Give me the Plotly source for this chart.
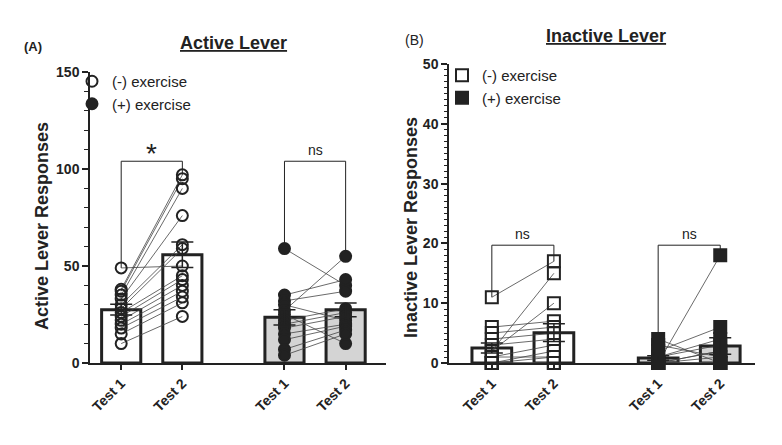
import numpy as np
import plotly.graph_objects as go

# ---------------- data ----------------
categories = ["Test 1", "Test 2"]
group_names = ["(-) exercise", "(+) exercise"]

# Active lever responses (paired: index i = same animal)
active_neg_t1 = [49, 38, 37, 35, 33, 30, 28, 26, 24, 22, 20, 18, 15, 10]
active_neg_t2 = [50, 97, 95, 90, 76, 61, 59, 45, 43, 40, 37, 34, 31, 24]
active_pos_t1 = [59, 35, 32, 30, 27, 25, 22, 20, 18, 15, 12, 7, 4]
active_pos_t2 = [40, 43, 37, 22, 55, 10, 28, 26, 24, 20, 19, 17, 15]

# Inactive lever responses
inactive_neg_t1 = [11, 2, 2, 6, 5, 4, 3, 1, 0, 1, 0, 0, 0, 0]
inactive_neg_t2 = [17, 15, 10, 7, 6, 5, 4, 3, 2, 1, 1, 0, 0, 0]
inactive_pos_t1 = [0, 4, 3, 2, 1, 1, 0, 0, 0, 0, 0, 0, 0]
inactive_pos_t2 = [18, 0, 1, 6, 4, 3, 2, 2, 1, 0, 0, 0, 0]

sig_active = ["*", "ns"]
sig_inactive = ["ns", "ns"]

# ---------------- style ----------------
FONT = "Liberation Sans, Arial, sans-serif"
INK = "#222222"
BAR_FILLS = ["#ffffff", "#d4d4d4"]
W, H = 782, 445
OFF = 8  # page body margin


def px_x(p):
    return (p - OFF) / W


def px_y(p):
    return 1 - (p - OFF) / H


fig = go.Figure()


def mean_sem(a):
    a = np.asarray(a, dtype=float)
    return a.mean(), a.std(ddof=1) / np.sqrt(len(a))


def panel(xa, ya, legend, positions, data, symbols, msize, bracket_top, sig, sig_font):
    means, sems, xs = [], [], []
    for gi, (t1, t2) in enumerate(data):
        p1, p2 = positions[gi]
        m1, s1 = mean_sem(t1)
        m2, s2 = mean_sem(t2)
        fig.add_trace(go.Bar(
            x=[p1, p2], y=[m1, m2], width=0.64, xaxis=xa, yaxis=ya,
            marker=dict(color=BAR_FILLS[gi], line=dict(color=INK, width=3)),
            showlegend=False, hoverinfo="skip"))
        means += [m1, m2]
        sems += [s1, s2]
        xs += [p1, p2]
    for gi, (t1, t2) in enumerate(data):
        p1, p2 = positions[gi]
        fig.add_trace(go.Scatter(
            x=[p1, p1, p2, p2], y=[max(t1), bracket_top, bracket_top, max(t2)],
            mode="lines", line=dict(color=INK, width=1), xaxis=xa, yaxis=ya,
            showlegend=False, hoverinfo="skip", cliponaxis=False))
        fig.add_annotation(x=(p1 + p2) / 2, y=bracket_top, xref=xa, yref=ya,
                           text=sig[gi], showarrow=False, xanchor="center",
                           yanchor="bottom", yshift=sig_font[gi][1],
                           font=dict(family=FONT, size=sig_font[gi][0], color=INK))
        lx, ly = [], []
        for a, b in zip(t1, t2):
            lx += [p1, p2, None]
            ly += [a, b, None]
        fig.add_trace(go.Scatter(
            x=lx, y=ly, mode="lines", line=dict(color="#444444", width=0.8),
            xaxis=xa, yaxis=ya, showlegend=False, hoverinfo="skip", cliponaxis=False))
        fig.add_trace(go.Scatter(
            x=[p1] * len(t1) + [p2] * len(t2), y=list(t1) + list(t2),
            mode="markers", name=group_names[gi], legend=legend,
            marker=dict(symbol=symbols[gi], size=msize, color=INK,
                        line=dict(color=INK, width=2)),
            xaxis=xa, yaxis=ya, showlegend=True, cliponaxis=False))
    fig.add_trace(go.Scatter(
        x=xs, y=means, mode="markers", marker=dict(size=1, opacity=0),
        error_y=dict(type="data", array=sems, color=INK, thickness=1.5, width=11),
        xaxis=xa, yaxis=ya, showlegend=False, hoverinfo="skip", cliponaxis=False))


pos_A = [(0, 1), (2.67, 3.67)]
pos_B = [(0, 1), (2.68, 3.68)]

panel("x", "y", "legend", pos_A,
      [(active_neg_t1, active_neg_t2), (active_pos_t1, active_pos_t2)],
      ["circle-open", "circle"], 11, 104, sig_active, [(28, -10), (14, 1)])
panel("x2", "y2", "legend2", pos_B,
      [(inactive_neg_t1, inactive_neg_t2), (inactive_pos_t1, inactive_pos_t2)],
      ["square-open", "square"], 12, 19.7, sig_inactive, [(14, 1), (14, 1)])

tickvals_A = [p for g in pos_A for p in g]
tickvals_B = [p for g in pos_B for p in g]

xcommon = dict(showline=True, linecolor=INK, linewidth=1.5, ticks="outside",
               ticklen=5, tickwidth=1.5, tickcolor=INK, tickangle=-45,
               showgrid=False, zeroline=False, automargin=False,
               tickfont=dict(family=FONT, size=14, color=INK, weight="bold"))
ycommon = dict(showline=True, linecolor=INK, linewidth=1.5, ticks="outside",
               ticklen=6, tickwidth=1.5, tickcolor=INK, showgrid=False,
               zeroline=False, automargin=False, tickmode="linear", tick0=0,
               tickfont=dict(family=FONT, size=14, color=INK, weight="bold"))

fig.update_layout(
    width=W, height=H, margin=dict(l=0, r=0, t=0, b=0, autoexpand=False),
    paper_bgcolor="white", plot_bgcolor="white", barmode="overlay",
    font=dict(family=FONT, color=INK),
    xaxis=dict(domain=[px_x(90), px_x(386)], range=[-0.51, 4.33], anchor="y",
               tickmode="array", tickvals=tickvals_A, ticktext=categories * 2,
               **xcommon),
    yaxis=dict(domain=[px_y(363), px_y(72)], range=[0, 150], anchor="x",
               dtick=50,
               minor=dict(dtick=10, ticklen=4, tickwidth=1, ticks="outside",
                          tickcolor=INK),
               **ycommon),
    xaxis2=dict(domain=[px_x(449), px_x(755)], range=[-0.69, 4.24], anchor="y2",
                tickmode="array", tickvals=tickvals_B, ticktext=categories * 2,
                **xcommon),
    yaxis2=dict(domain=[px_y(363), px_y(64)], range=[0, 50], anchor="x2",
                dtick=10,
                minor=dict(dtick=1, ticklen=3, tickwidth=1, ticks="outside",
                           tickcolor=INK),
                **ycommon),
    legend=dict(x=px_x(72), y=px_y(65), xanchor="left", yanchor="top",
                font=dict(family=FONT, size=15, color=INK),
                bgcolor="rgba(0,0,0,0)", tracegroupgap=0),
    legend2=dict(x=px_x(442), y=px_y(59), xanchor="left", yanchor="top",
                 font=dict(family=FONT, size=15, color=INK),
                 bgcolor="rgba(0,0,0,0)", tracegroupgap=0),
)


def label(px, py, text, size, angle=0):
    fig.add_annotation(x=px_x(px), y=px_y(py), xref="paper", yref="paper",
                       text=text, showarrow=False, xanchor="center",
                       yanchor="middle", textangle=angle,
                       font=dict(family=FONT, size=size, color=INK))


label(233, 43, "<u><b>Active Lever</b></u>", 18)
label(606, 36, "<u><b>Inactive Lever</b></u>", 18)
label(33, 46, "<b>(A)</b>", 13)
label(414, 40, "(B)", 14)
label(42, 226, "<b>Active Lever Responses</b>", 18, -90)
label(411, 228, "<b>Inactive Lever Responses</b>", 18, -90)

fig.write_html("out.html")
